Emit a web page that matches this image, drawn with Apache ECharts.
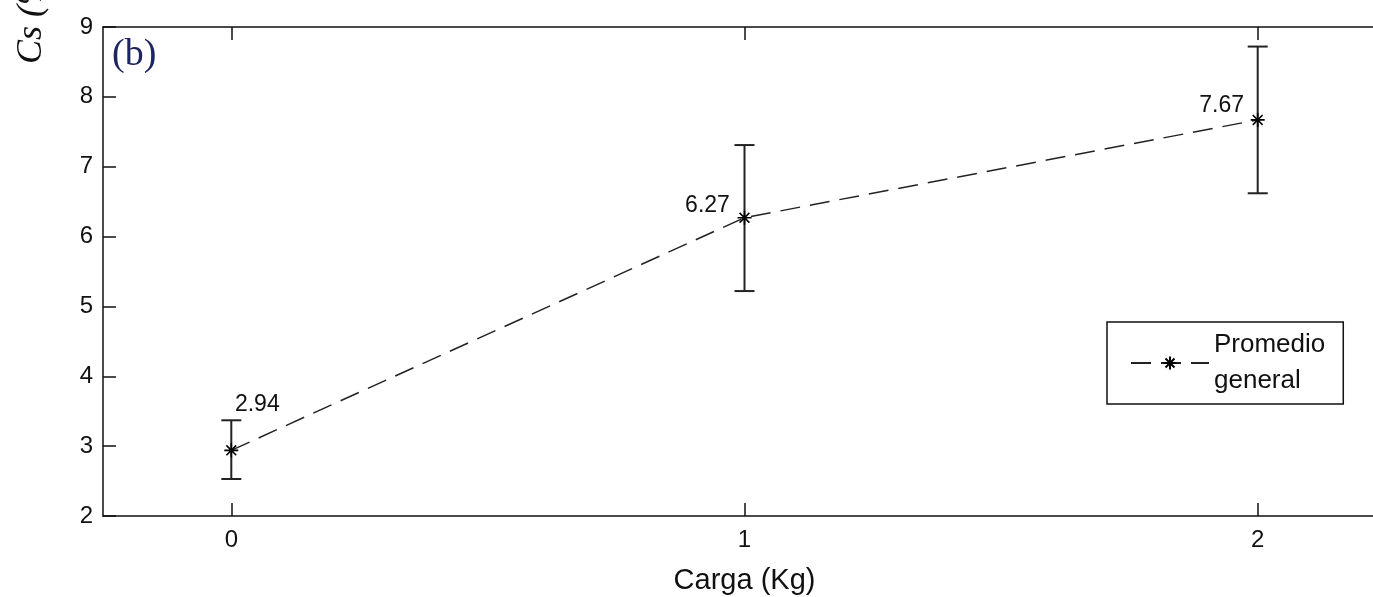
<!DOCTYPE html>
<html>
<head>
<meta charset="utf-8">
<script src="https://cdn.jsdelivr.net/npm/echarts@6/dist/echarts.min.js"></script>
<style>
html,body{margin:0;padding:0;background:#fff;overflow:hidden;width:1373px;height:597px;}
#chart{width:1400px;height:597px;}
</style>
</head>
<body>
<div id="chart"></div>
<script>
// ---- data ----
const loads = [0, 1, 2];
const xTickLabels = ['0', '1', '2'];
const means = [2.94, 6.27, 7.67];
const errLow = [2.53, 5.22, 6.62];
const errHigh = [3.37, 7.31, 8.72];
const meanLabels = ['2.94', '6.27', '7.67'];
const seriesName = 'Promedio general';
const xAxisName = 'Carga (Kg)';
const yAxisName = 'Cs (%)';
const panelTag = '(b)';

const font = 'Liberation Sans, Arial, sans-serif';
const labelOffsets = [[26, -46], [-37, -12], [-36, -14]];

const lineData = loads.map((x, i) => ({
  value: [x, means[i]],
  label: { show: true, formatter: meanLabels[i], position: 'inside', offset: labelOffsets[i],
           color: '#111', fontSize: 23, fontFamily: font }
}));
const errData = loads.map((x, i) => [x, errLow[i], errHigh[i]]);

const asterisk = 'path://M0,-10L0,10M-10,0L10,0M-7,-7L7,7M-7,7L7,-7';

const chart = echarts.init(document.getElementById('chart'), null, { renderer: 'canvas' });
const axisLineStyle = { color: '#111', width: 1.5 };
const option = {
  animation: false,
  backgroundColor: '#fff',
  grid: { left: 103, top: 27, right: 14, bottom: 81, containLabel: false, outerBoundsMode: 'none' },
  xAxis: [
    {
      type: 'value', position: 'bottom', min: -0.25, max: 2.25,
      axisLine: { show: true, onZero: false, lineStyle: axisLineStyle },
      axisTick: { show: true, inside: true, length: 13, customValues: loads, lineStyle: axisLineStyle },
      axisLabel: { show: true, customValues: loads, margin: 12, color: '#111', fontSize: 24, fontFamily: font,
                   formatter: v => xTickLabels[loads.indexOf(v)] },
      splitLine: { show: false },
      name: xAxisName, nameLocation: 'middle', nameGap: 50,
      nameTextStyle: { color: '#111', fontSize: 29, fontFamily: font }
    },
    {
      type: 'value', position: 'top', min: -0.25, max: 2.25,
      axisLine: { show: true, onZero: false, lineStyle: axisLineStyle },
      axisTick: { show: true, inside: true, length: 13, customValues: loads, lineStyle: axisLineStyle },
      axisLabel: { show: false },
      splitLine: { show: false }
    }
  ],
  yAxis: [
    {
      type: 'value', position: 'left', min: 2, max: 9, interval: 1,
      axisLine: { show: true, onZero: false, lineStyle: axisLineStyle },
      axisTick: { show: true, inside: true, length: 13, lineStyle: axisLineStyle },
      axisLabel: { show: true, margin: 10, color: '#111', fontSize: 24, fontFamily: font },
      splitLine: { show: false }
    },
    {
      type: 'value', position: 'right', min: 2, max: 9, interval: 1,
      axisLine: { show: true, onZero: false, lineStyle: axisLineStyle },
      axisTick: { show: true, inside: true, length: 13, lineStyle: axisLineStyle },
      axisLabel: { show: false },
      splitLine: { show: false }
    }
  ],
  legend: {
    show: true, data: [seriesName], left: 1107, top: 322, orient: 'vertical',
    backgroundColor: '#fff', borderColor: '#111', borderWidth: 1.5, borderRadius: 0,
    padding: [5, 18, 5, 23], itemWidth: 78, itemHeight: 16, itemGap: 0,
    formatter: () => 'Promedio\ngeneral',
    textStyle: { color: '#111', fontSize: 26, lineHeight: 36, fontFamily: font },
    selectedMode: false
  },
  series: [
    {
      type: 'custom', name: 'err', xAxisIndex: 0, yAxisIndex: 0,
      encode: { x: 0, y: [1, 2] },
      data: errData, z: 2,
      renderItem: function (params, api) {
        const x = api.value(0), lo = api.value(1), hi = api.value(2);
        const pLo = api.coord([x, lo]), pHi = api.coord([x, hi]);
        const w = 10;
        const st = { stroke: '#222', lineWidth: 2 };
        return {
          type: 'group', children: [
            { type: 'line', shape: { x1: pLo[0], y1: pLo[1], x2: pHi[0], y2: pHi[1] }, style: st },
            { type: 'line', shape: { x1: pLo[0] - w, y1: pLo[1], x2: pLo[0] + w, y2: pLo[1] }, style: st },
            { type: 'line', shape: { x1: pHi[0] - w, y1: pHi[1], x2: pHi[0] + w, y2: pHi[1] }, style: st }
          ]
        };
      }
    },
    {
      type: 'line', name: seriesName, xAxisIndex: 0, yAxisIndex: 0,
      data: lineData, z: 3,
      symbol: asterisk, symbolSize: 14, showSymbol: true,
      lineStyle: { color: '#222', width: 1.5, type: [20, 10] },
      itemStyle: { color: 'rgba(0,0,0,0)', borderColor: '#000', borderWidth: 1.6 },
      emphasis: { disabled: true }
    }
  ],
  graphic: [
    { type: 'text', left: 112, top: 36, z: 10,
      style: { text: panelTag, fill: '#1d2560', fontSize: 38, fontFamily: 'Liberation Serif, Times New Roman, serif' } },
    { type: 'text', x: 32, y: 64, rotation: Math.PI / 2, z: 10,
      style: { text: yAxisName, fill: '#111', fontSize: 36, fontStyle: 'italic',
               fontFamily: 'Liberation Serif, Times New Roman, serif', align: 'left', verticalAlign: 'middle' } }
  ]
};
chart.setOption(option);
</script>
</body>
</html>
